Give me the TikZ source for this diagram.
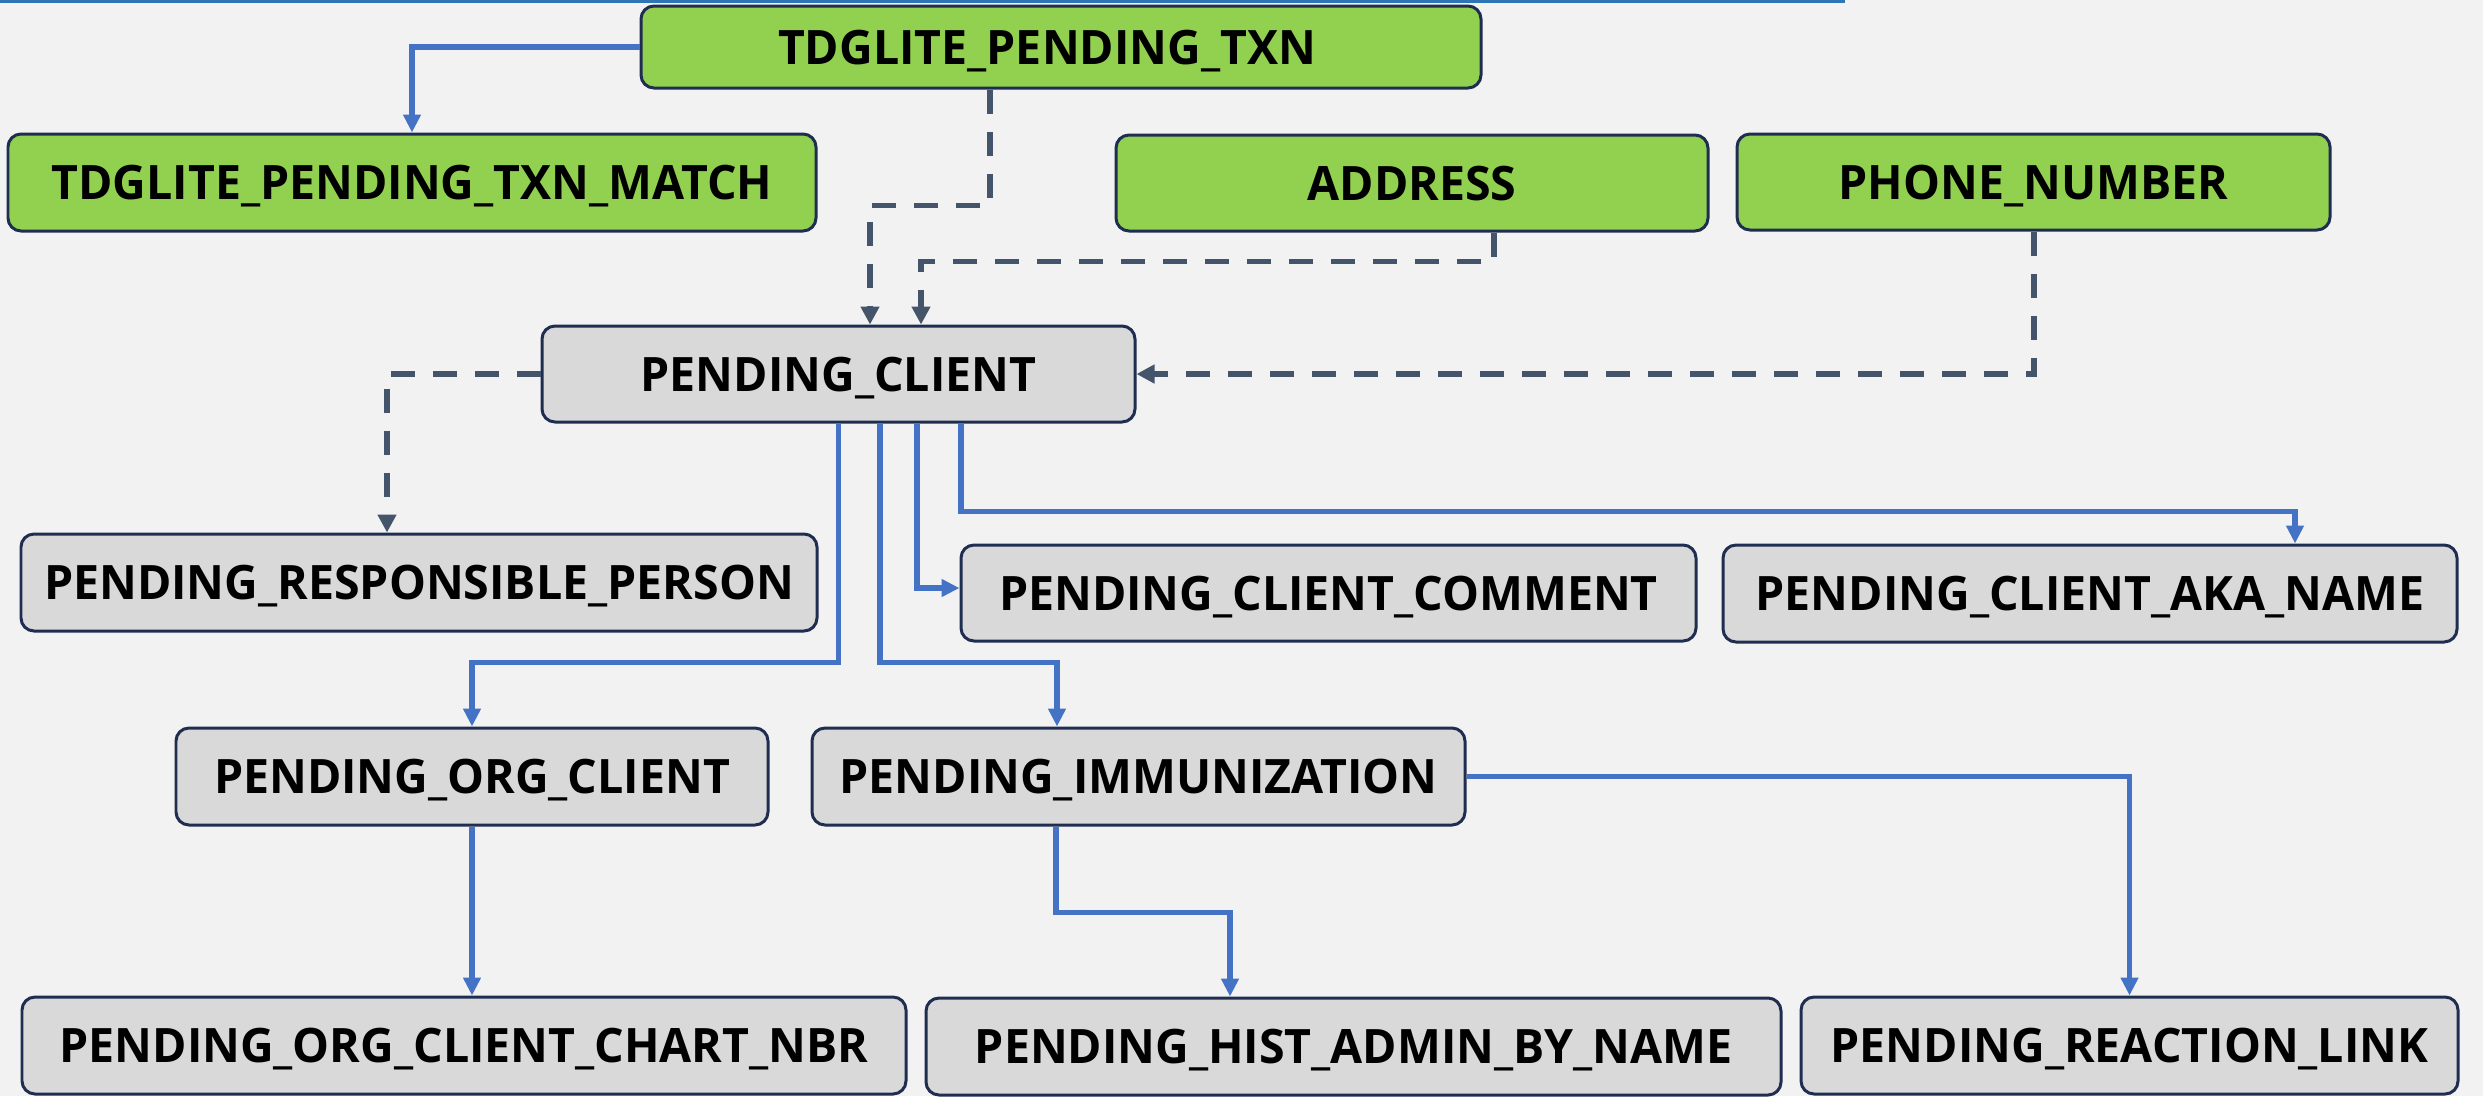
\documentclass[tikz,border=0pt]{standalone}
\usepackage{fontspec}
\setmainfont{Open Sans}[FakeStretch=0.98]
\usetikzlibrary{arrows.meta,calc}
\definecolor{bgc}{HTML}{F2F2F2}
\definecolor{grn}{HTML}{92D050}
\definecolor{gry}{HTML}{D9D9D9}
\definecolor{brd}{HTML}{1F2D50}
\definecolor{blu}{HTML}{4472C4}
\definecolor{slt}{HTML}{44546A}
\definecolor{topc}{HTML}{2E75B6}
\tikzset{
  tbl/.style={draw=brd, line width=0.85pt, rounded corners=0.13cm, inner sep=0pt,
    font=\fontsize{13.5}{16}\selectfont\bfseries, text=black,
    text height=0.34cm, text depth=0cm},
  gbox/.style={tbl, fill=grn},
  ybox/.style={tbl, fill=gry},
  bl/.style={draw=blu, line width=1.45pt, -{Triangle[length=0.18cm,width=0.17cm]}},
  dsh/.style={draw=slt, line width=1.7pt, dash pattern=on 0.24cm off 0.18cm,
    -{Triangle[length=0.18cm,width=0.18cm]}},
}
\begin{document}
\begin{tikzpicture}[x=1cm,y=-1cm]
\fill[bgc] (0,0) rectangle (24.83,10.96);
\useasboundingbox (0,0) rectangle (24.83,10.96);
\draw[topc, line width=0.8pt] (0,0.012) -- (18.45,0.012);

\node[gbox, minimum width=8.40cm, minimum height=0.82cm] (txn) at (10.61,0.47) {\hspace*{-0.28cm}TDGLITE\_PENDING\_TXN};
\node[gbox, minimum width=8.08cm, minimum height=0.97cm] (match) at (4.12,1.825) {TDGLITE\_PENDING\_TXN\_MATCH};
\node[gbox, minimum width=5.92cm, minimum height=0.96cm] (addr) at (14.12,1.83) {ADDRESS};
\node[gbox, minimum width=5.93cm, minimum height=0.96cm] (phone) at (20.335,1.82) {PHONE\_NUMBER};
\node[ybox, minimum width=5.93cm, minimum height=0.96cm] (client) at (8.385,3.74) {PENDING\_CLIENT};
\node[ybox, minimum width=7.96cm, minimum height=0.97cm] (resp) at (4.19,5.825) {PENDING\_RESPONSIBLE\_PERSON};
\node[ybox, minimum width=7.35cm, minimum height=0.96cm] (comment) at (13.285,5.93) {PENDING\_CLIENT\_COMMENT};
\node[ybox, minimum width=7.34cm, minimum height=0.97cm] (aka) at (20.90,5.935) {PENDING\_CLIENT\_AKA\_NAME};
\node[ybox, minimum width=5.92cm, minimum height=0.97cm] (org) at (4.72,7.765) {PENDING\_ORG\_CLIENT};
\node[ybox, minimum width=6.53cm, minimum height=0.97cm] (immun) at (11.385,7.765) {PENDING\_IMMUNIZATION};
\node[ybox, minimum width=8.84cm, minimum height=0.97cm] (chart) at (4.64,10.455) {PENDING\_ORG\_CLIENT\_CHART\_NBR};
\node[ybox, minimum width=8.55cm, minimum height=0.97cm] (hist) at (13.535,10.465) {PENDING\_HIST\_ADMIN\_BY\_NAME};
\node[ybox, minimum width=6.57cm, minimum height=0.97cm] (react) at (21.295,10.455) {PENDING\_REACTION\_LINK};

% solid connectors
\draw[bl] (txn.west) -| (match.north);
\draw[bl] (client.south) -- ++(0,2.39) -| (org.north);
\draw[bl] ([xshift=0.415cm]client.south) -- ++(0,2.39) -| ([xshift=-0.815cm]immun.north);
\draw[bl] ([xshift=0.785cm]client.south) |- ([yshift=0.05cm]comment.west);
\draw[bl] ([xshift=1.225cm]client.south) -- ++(0,0.88) -| ([xshift=2.05cm]aka.north);
\draw[bl] (org.south) -- (org.south |- chart.north);
\draw[bl] ([xshift=-0.825cm]immun.south) -- ++(0,0.86) -| ([xshift=-1.235cm]hist.north);
\draw[bl] (immun.east) -| (react.north);

% dashed connectors
\draw[dsh] ([xshift=-0.71cm]txn.south) -- ++(0,1.16) -| ([xshift=0.315cm]client.north);
\draw[dsh] ([xshift=0.82cm]addr.south) -- ++(0,0.29) -| ([xshift=0.825cm]client.north);
\draw[dsh] (phone.south) |- (client.east);
\draw[dsh] (client.west) -| ([xshift=-0.32cm]resp.north);
\end{tikzpicture}
\end{document}
